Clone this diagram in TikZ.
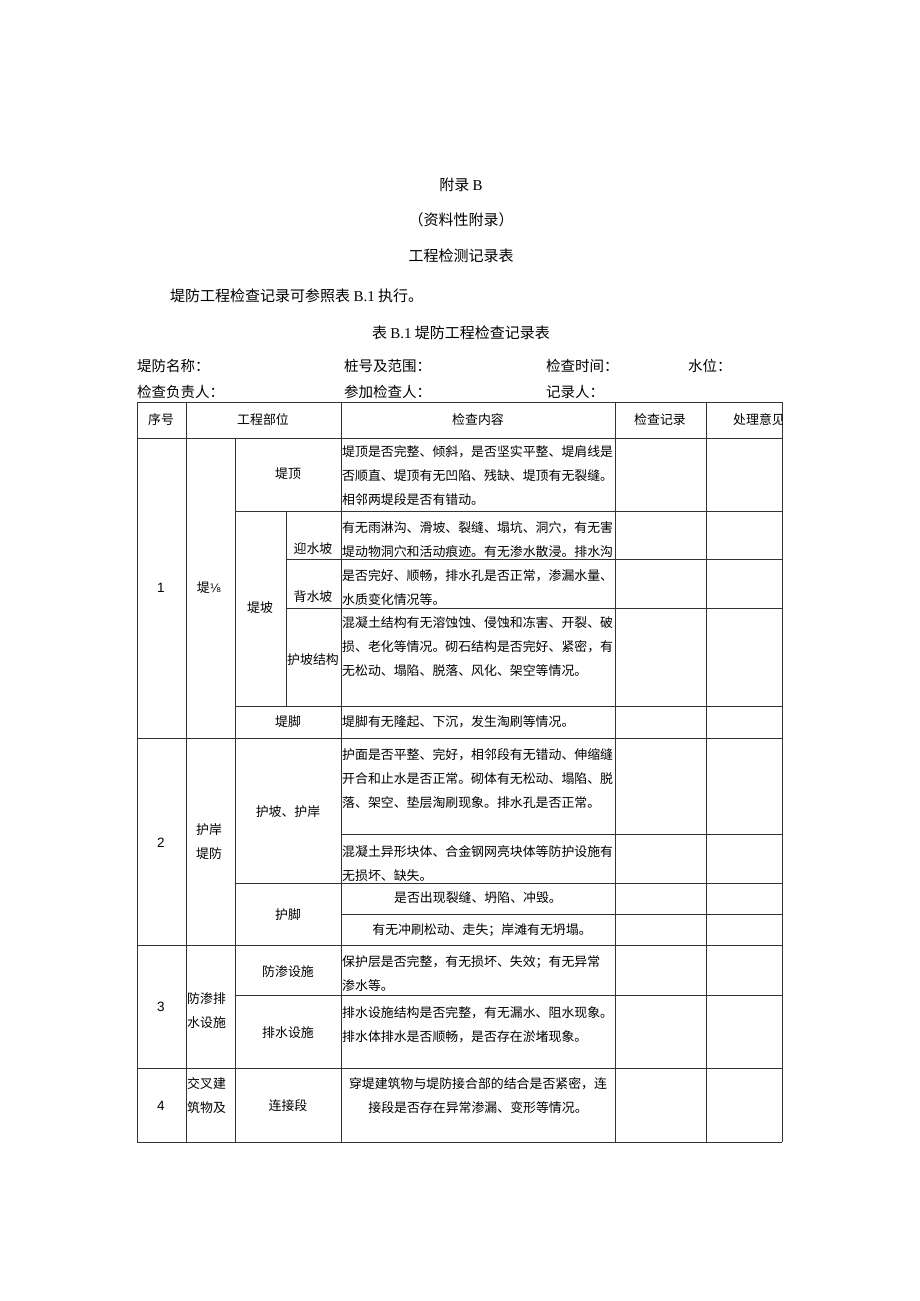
\documentclass[tikz,border=0pt]{standalone}
\usepackage{fontspec}
\setmainfont{Liberation Serif}
\newfontfamily\cjk{Noto Sans CJK SC}
\newfontfamily\arial{Liberation Sans}
\newfontfamily\dejavu{DejaVu Sans}
\begin{document}
\begin{tikzpicture}[x=1pt,y=-1pt,
  grid/.style={line width=0.9pt, draw=black!80},
  txt/.style={font=\cjk\fontsize{12.9}{24}\selectfont, inner sep=0pt, align=left, anchor=west},
  ctr/.style={font=\cjk\fontsize{12.9}{24}\selectfont, inner sep=0pt, align=center},
  head/.style={font=\cjk\fontsize{15}{18}\selectfont, inner sep=0pt},
  field/.style={font=\cjk\fontsize{14.5}{18}\selectfont, inner sep=0pt, anchor=west},
  num/.style={font=\arial\fontsize{13.5}{15}\selectfont, inner sep=0pt}]
\useasboundingbox (0,0) rectangle (920,1301);
\fill[white] (0,0) rectangle (920,1301);

% titles
\node[head] (t1) at (461,185) {附录~{\rmfamily B}};
\node[head] (t2) at (461,220) {（资料性附录）};
\node[head] (t3) at (461,256) {工程检测记录表};
\node[head, anchor=west] (t4) at (170,296) {堤防工程检查记录可参照表~{\rmfamily B.1}~执行。};
\node[head] (t5) at (461,333) {表~{\rmfamily B.1}~堤防工程检查记录表};

\node[field] (f1) at (137,366) {堤防名称：};
\node[field] (f2) at (344,366) {桩号及范围：};
\node[field] (f3) at (546,366) {检查时间：};
\node[field] (f4) at (688,366) {水位：};
\node[field] (f5) at (137,392) {检查负责人：};
\node[field] (f6) at (344,392) {参加检查人：};
\node[field] (f7) at (546,392) {记录人：};

% grid: verticals
\draw[grid] (137,402) -- (137,1142);
\draw[grid] (186,402) -- (186,1142);
\draw[grid] (235,438) -- (235,1142);
\draw[grid] (286,511) -- (286,706);
\draw[grid] (341,402) -- (341,1142);
\draw[grid] (615,402) -- (615,1142);
\draw[grid] (706,402) -- (706,1142);
\draw[grid] (782,402) -- (782,1142);
% horizontals
\draw[grid] (137,402) -- (782,402);
\draw[grid] (137,438) -- (782,438);
\draw[grid] (235,511) -- (782,511);
\draw[grid] (286,559) -- (782,559);
\draw[grid] (286,608) -- (782,608);
\draw[grid] (235,706) -- (782,706);
\draw[grid] (137,738) -- (782,738);
\draw[grid] (341,834) -- (782,834);
\draw[grid] (235,883) -- (782,883);
\draw[grid] (341,914) -- (782,914);
\draw[grid] (137,945) -- (782,945);
\draw[grid] (235,995) -- (782,995);
\draw[grid] (137,1068) -- (782,1068);
\draw[grid] (137,1142) -- (782,1142);

% header row
\node[ctr] (h1) at (161,420) {序号};
\node[ctr] (h2) at (263,420) {工程部位};
\node[ctr] (h3) at (478,420) {检查内容};
\node[ctr] (h4) at (660,420) {检查记录};
\begin{scope}
\clip (706,402) rectangle (782,438);
\node[ctr, anchor=west] (h5) at (733,420) {处理意见};
\end{scope}

% row 1
\node[num] (n1) at (161,588) {1};
\node[ctr] (a1) at (209,588) {堤{\dejavu\fontsize{11.5}{12}\selectfont ⅛}};
\node[ctr] (b1) at (288,474) {堤顶};
\node[txt] (c1) at (342,476) {堤顶是否完整、倾斜，是否坚实平整、堤肩线是\\否顺直、堤顶有无凹陷、残缺、堤顶有无裂缝。\\相邻两堤段是否有错动。};
\node[ctr] (b2) at (260,608) {堤坡};
\node[ctr] (b3) at (313,549) {迎水坡};
\node[ctr] (b4) at (313,597) {背水坡};
\node[ctr] (b5) at (313,660) {护坡结构};
\node[txt] (c2) at (342,564) {有无雨淋沟、滑坡、裂缝、塌坑、洞穴，有无害\\堤动物洞穴和活动痕迹。有无渗水散浸。排水沟\\是否完好、顺畅，排水孔是否正常，渗漏水量、\\水质变化情况等。};
\node[txt] (c3) at (342,647) {混凝土结构有无溶蚀蚀、侵蚀和冻害、开裂、破\\损、老化等情况。砌石结构是否完好、紧密，有\\无松动、塌陷、脱落、风化、架空等情况。};
\node[ctr] (b6) at (288,722) {堤脚};
\node[txt] (c4) at (342,722) {堤脚有无隆起、下沉，发生淘刷等情况。};

% row 2
\node[num] (n2) at (161,843) {2};
\node[ctr] (a2) at (209,842) {护岸\\堤防};
\node[ctr] (b7) at (288,812) {护坡、护岸};
\node[txt] (c5) at (342,779) {护面是否平整、完好，相邻段有无错动、伸缩缝\\开合和止水是否正常。砌体有无松动、塌陷、脱\\落、架空、垫层淘刷现象。排水孔是否正常。};
\node[txt] (c6) at (342,864) {混凝土异形块体、合金钢网亮块体等防护设施有\\无损坏、缺失。};
\node[ctr] (b8) at (288,915) {护脚};
\node[ctr] (c7) at (478,898) {是否出现裂缝、坍陷、冲毁。};
\node[ctr] (c8) at (482,930) {有无冲刷松动、走失；岸滩有无坍塌。};

% row 3
\node[num] (n3) at (161,1007) {3};
\node[txt] (a3) at (187,1011) {防渗排\\水设施};
\node[ctr] (b9) at (288,972) {防渗设施};
\node[txt] (c9) at (342,974) {保护层是否完整，有无损坏、失效；有无异常\\渗水等。};
\node[ctr] (b10) at (288,1033) {排水设施};
\node[txt] (c10) at (342,1025) {排水设施结构是否完整，有无漏水、阻水现象。\\排水体排水是否顺畅，是否存在淤堵现象。};

% row 4
\node[num] (n4) at (161,1106) {4};
\node[txt] (a4) at (187,1096) {交叉建\\筑物及};
\node[ctr] (b11) at (288,1106) {连接段};
\node[ctr] (c11) at (478,1096) {穿堤建筑物与堤防接合部的结合是否紧密，连\\接段是否存在异常渗漏、变形等情况。};
\end{tikzpicture}
\end{document}
